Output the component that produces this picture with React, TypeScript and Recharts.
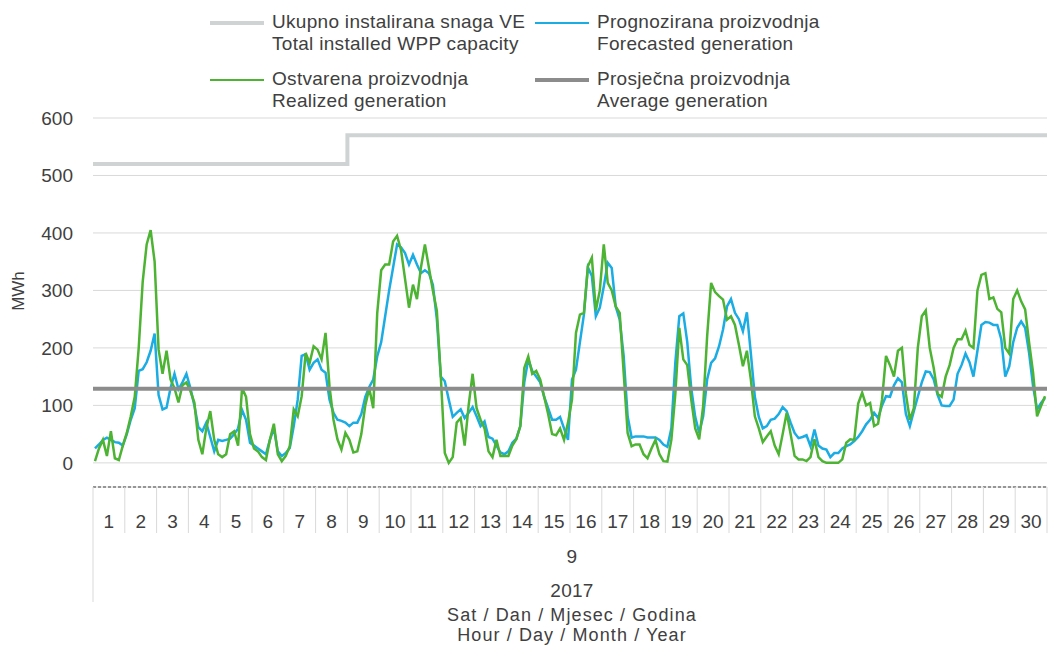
import React from "react";
import { LineChart, Line, XAxis, YAxis, CartesianGrid } from "recharts";

const WIDTH = 1049;
const HEIGHT = 646;
const PLOT_LEFT = 93;
const PLOT_RIGHT = 2;
const FONT = "'Liberation Sans', Arial, sans-serif";
const TEXT = "#404040";

// days of September 2017
const DAYS = Array.from({ length: 30 }, (_, i) => String(i + 1));
const SAMPLES_PER_DAY = 8; // one value every 3 hours

const CAPACITY = [
  520, 520, 520, 520, 520, 520, 520, 520, 570, 570, 570, 570, 570, 570, 570,
  570, 570, 570, 570, 570, 570, 570, 570, 570, 570, 570, 570, 570, 570, 570,
];
const AVERAGE = 129;

const forecast = [
  25, 32, 40, 44, 40, 36, 35, 30,
  50, 75, 95, 160, 163, 175, 195, 225,
  118, 93, 96, 130, 155, 128, 140, 155,
  130, 100, 62, 55, 70, 45, 20, 40,
  38, 40, 42, 50, 60, 92, 75, 35,
  30, 25, 20, 15, 40, 60, 20, 12,
  17, 26, 64, 110, 186, 189, 162, 174,
  180, 162, 157, 110, 87, 75, 73, 70,
  64, 70, 70, 85, 115, 132, 145, 185,
  210, 255, 300, 340, 380, 375, 365, 345,
  362, 345, 330, 335, 330, 310, 250, 150,
  142, 110, 80, 87, 93, 78, 87, 97,
  81, 64, 72, 45, 42, 30, 18, 15,
  20, 35, 42, 64, 140, 180, 160, 150,
  140, 115, 95, 75, 75, 80, 60, 40,
  145, 162, 210, 258, 340, 325, 255, 270,
  307, 348, 339, 272, 249, 186, 81, 44,
  46, 46, 46, 44, 44, 44, 40, 32,
  28, 60, 175, 255, 260, 210, 130, 80,
  52, 81, 145, 174, 182, 203, 232, 272,
  285, 261, 250, 229, 262, 190, 115, 80,
  60, 64, 75, 77, 85, 97, 90, 70,
  52, 43, 45, 48, 29, 58, 30, 25,
  23, 10, 17, 17, 25, 29, 32, 38,
  45, 55, 67, 75, 87, 78, 100, 116,
  115, 135, 147, 140, 85, 64, 90, 115,
  140, 159, 158, 145, 118, 100, 99, 99,
  110, 155, 170, 190, 175, 150, 195, 240,
  245, 244, 240, 240, 215, 150, 168, 210,
  235, 246, 235, 191, 133, 93, 104, 113,
];

const realized = [
  3, 25, 40, 12, 55, 8, 5, 30,
  52, 81, 115, 200, 315, 380, 405, 350,
  197, 155, 195, 145, 130, 105, 135, 140,
  125, 105, 40, 15, 60, 90, 40, 15,
  10, 15, 50, 55, 30, 130, 115, 50,
  25, 20, 10, 5, 40, 68, 15, 3,
  12, 29, 93, 81, 116, 191, 174, 203,
  197, 180, 226, 133, 75, 41, 23, 52,
  40, 18, 20, 50, 100, 130, 95, 260,
  335, 345, 345, 385, 395, 370, 320, 270,
  310, 285, 340, 380, 340, 300, 265, 150,
  17, 0, 10, 70, 78, 30, 100, 155,
  95, 75, 60, 20, 10, 40, 12, 12,
  12, 30, 41, 64, 165, 185, 155, 160,
  145, 115, 85, 50, 48, 60, 40, 70,
  110, 226, 258, 261, 342, 357, 265, 300,
  380, 313, 300, 272, 261, 157, 52, 29,
  32, 32, 15, 8, 25, 40, 15, 3,
  2, 40, 120, 235, 180, 170, 110, 60,
  41, 99, 220, 313, 297, 290, 284, 249,
  255, 240, 205, 168, 195, 145, 81, 60,
  36, 46, 55, 30, 15, 50, 87, 50,
  12, 6, 6, 3, 10, 41, 10, 3,
  0, 0, 0, 0, 6, 35, 41, 40,
  103, 122, 100, 104, 64, 68, 110, 186,
  170, 150, 195, 200, 120, 75, 95, 200,
  255, 265, 200, 165, 120, 115, 150, 170,
  200, 215, 215, 230, 205, 200, 300, 327,
  330, 285, 288, 268, 262, 200, 190, 285,
  300, 281, 267, 209, 157, 81, 99, 116,
];

const Y_TICKS = [0, 100, 200, 300, 400, 500, 600];

const data = forecast.map((f, i) => ({
  x: (i + 0.5) / SAMPLES_PER_DAY,
  forecast: f,
  realized: realized[i],
}));

const capacityData = CAPACITY.flatMap((c, d) => [
  { x: d, cap: c },
  { x: d + 1, cap: c },
]);
const averageData = [
  { x: 0, avg: AVERAGE },
  { x: DAYS.length, avg: AVERAGE },
];

const dayTicks = Array.from({ length: DAYS.length + 1 }, (_, i) => i);
const DAY_PX = (WIDTH - PLOT_LEFT - PLOT_RIGHT) / DAYS.length;

function DayTick(props: any) {
  const { x, y, payload } = props;
  const v = payload.value as number;
  return (
    <g>
      <line x1={x} y1={y} x2={x} y2={y + (v === 0 ? 115 : 46)} stroke="#D9D9D9" />
      {v < DAYS.length && (
        <text
          x={x + DAY_PX / 2}
          y={y + 34}
          textAnchor="middle"
          dominantBaseline="central"
          fontFamily={FONT}
          fontSize={19}
          fill={TEXT}
        >
          {DAYS[v]}
        </text>
      )}
    </g>
  );
}

const legendItems = [
  { color: "#D0D3D4", w: 4, l1: "Ukupno instalirana snaga VE", l2: "Total installed WPP capacity", x: 210, y: 0 },
  { color: "#1AACE3", w: 2, l1: "Prognozirana proizvodnja", l2: "Forecasted generation", x: 535, y: 0 },
  { color: "#4DB332", w: 2, l1: "Ostvarena proizvodnja", l2: "Realized generation", x: 210, y: 57 },
  { color: "#8C8C8C", w: 4, l1: "Prosječna proizvodnja", l2: "Average generation", x: 535, y: 57 },
];

// one text line; top is chosen so the baseline sits where the reference has it
function TextLine({
  children,
  left,
  baseline,
  size = 19,
  spacing = 0.3,
  center = false,
}: {
  children: React.ReactNode;
  left: number;
  baseline: number;
  size?: number;
  spacing?: number;
  center?: boolean;
}) {
  return (
    <div
      style={{
        position: "absolute",
        left,
        top: baseline - 0.905 * size,
        fontFamily: FONT,
        fontSize: size,
        lineHeight: `${Math.ceil(1.117 * size)}px`,
        letterSpacing: spacing,
        color: TEXT,
        whiteSpace: "nowrap",
        transform: center ? "translateX(-50%)" : undefined,
      }}
    >
      {children}
    </div>
  );
}

export default function App() {
  return (
    <div style={{ position: "absolute", left: 0, top: 0, width: WIDTH, height: HEIGHT, background: "#fff" }}>
      <LineChart
        width={WIDTH}
        height={HEIGHT}
        data={data}
        margin={{ top: 118, right: PLOT_RIGHT, bottom: 0, left: 0 }}
      >
        <CartesianGrid vertical={false} stroke="#D9D9D9" />
        <XAxis
          dataKey="x"
          type="number"
          domain={[0, DAYS.length]}
          ticks={dayTicks}
          interval={0}
          height={159}
          tickSize={0}
          tickMargin={0}
          tickLine={false}
          axisLine={{ stroke: "#404040", strokeDasharray: "3 2" }}
          tick={<DayTick />}
        />
        <YAxis
          type="number"
          domain={[-42, 600]}
          ticks={Y_TICKS}
          width={PLOT_LEFT}
          axisLine={false}
          tickLine={false}
          tickSize={0}
          tickMargin={20}
          tick={{ fontFamily: FONT, fontSize: 19, fill: TEXT }}
        />
        <Line
          data={capacityData}
          dataKey="cap"
          type="linear"
          stroke="#D0D3D4"
          strokeWidth={4}
          dot={false}
          isAnimationActive={false}
        />
        <Line
          dataKey="forecast"
          type="linear"
          stroke="#1AACE3"
          strokeWidth={2.5}
          dot={false}
          isAnimationActive={false}
        />
        <Line
          dataKey="realized"
          type="linear"
          stroke="#4DB332"
          strokeWidth={2.5}
          dot={false}
          isAnimationActive={false}
        />
        <Line
          data={averageData}
          dataKey="avg"
          type="linear"
          stroke="#8C8C8C"
          strokeWidth={4}
          dot={false}
          isAnimationActive={false}
        />
      </LineChart>

      {legendItems.map((it) => (
        <React.Fragment key={it.l1}>
          <div
            style={{
              position: "absolute",
              left: it.x,
              top: it.y + 23 - it.w / 2,
              width: 54,
              height: it.w,
              background: it.color,
            }}
          />
          <TextLine left={it.x + 62} baseline={it.y + 28.5}>
            {it.l1}
          </TextLine>
          <TextLine left={it.x + 62} baseline={it.y + 50.5}>
            {it.l2}
          </TextLine>
        </React.Fragment>
      ))}

      <div
        style={{
          position: "absolute",
          left: 19,
          top: 291,
          fontFamily: FONT,
          fontSize: 17,
          color: TEXT,
          whiteSpace: "nowrap",
          transform: "translate(-50%, -50%) rotate(-90deg)",
        }}
      >
        MWh
      </div>
      <TextLine left={572} baseline={563} center>
        9
      </TextLine>
      <TextLine left={572} baseline={597} center>
        2017
      </TextLine>
      <TextLine left={572} baseline={621} size={18} spacing={1.1} center>
        Sat / Dan / Mjesec / Godina
      </TextLine>
      <TextLine left={572} baseline={641.5} size={18} spacing={1.1} center>
        Hour / Day / Month / Year
      </TextLine>
    </div>
  );
}
